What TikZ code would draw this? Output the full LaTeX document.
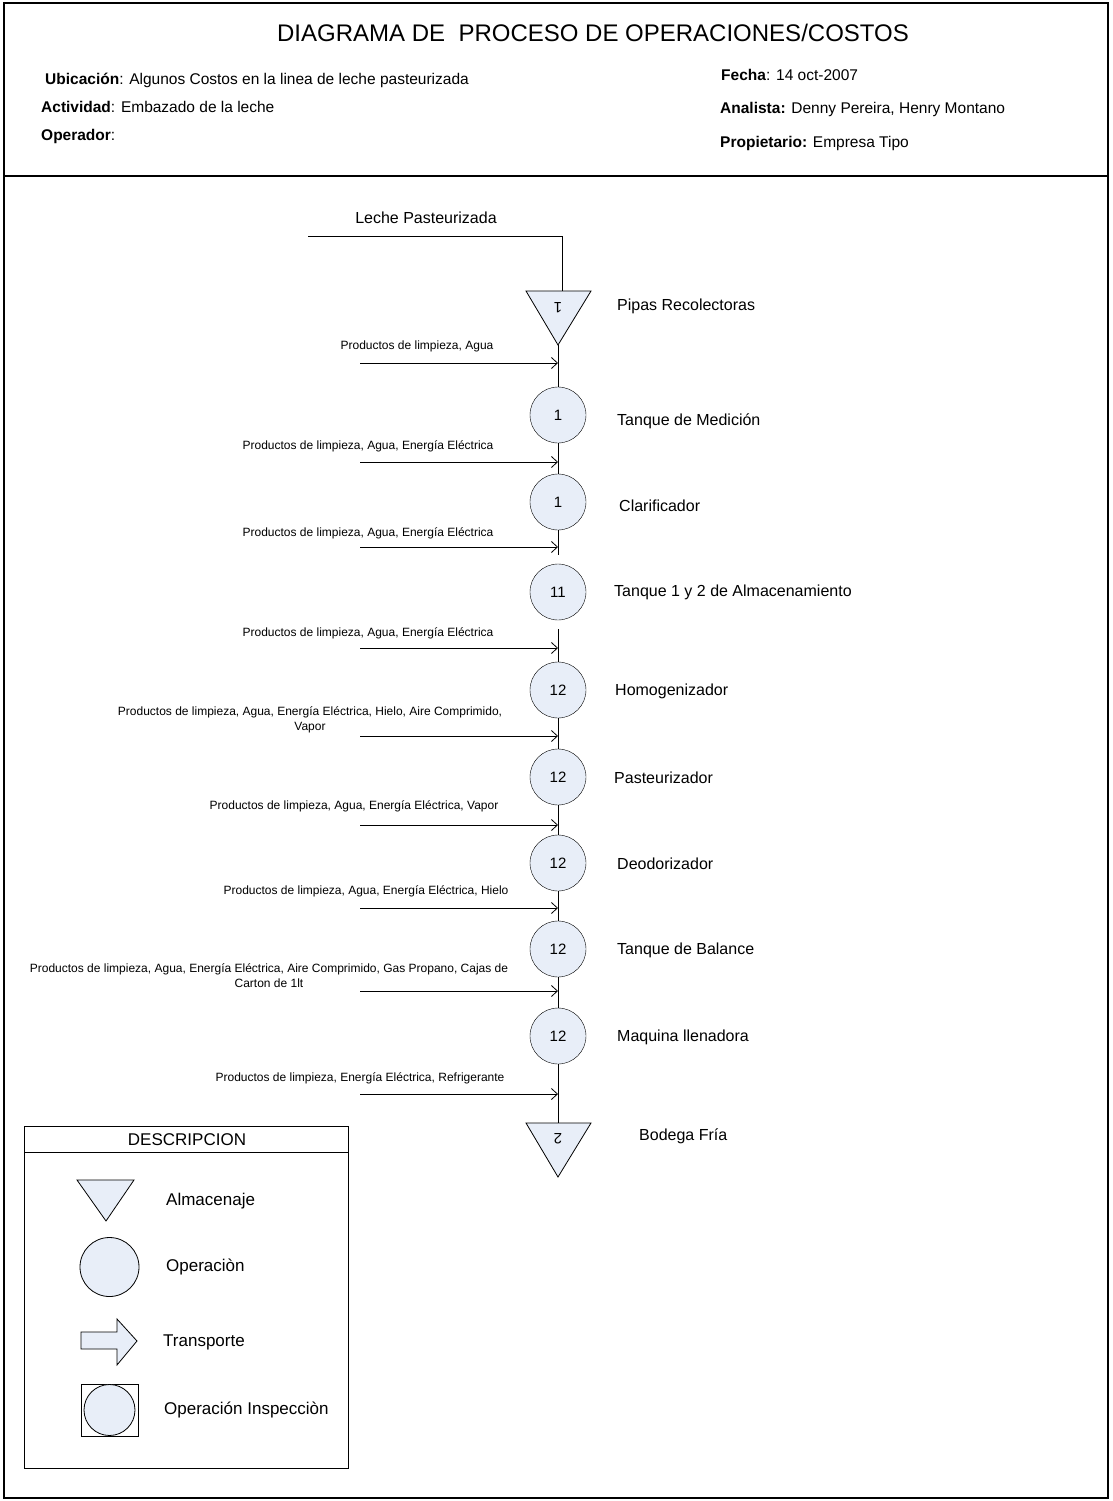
\documentclass[tikz,border=0pt]{standalone}
\usepackage{fontspec}
\setmainfont{Liberation Sans}
\usetikzlibrary{arrows.meta}
\definecolor{opfill}{RGB}{232,238,248}

\begin{document}
\begin{tikzpicture}[x=1pt,y=-1pt,
  every node/.style={inner sep=0pt},
  oper/.style={circle,draw,fill=opfill,minimum size=56pt,font=\fontsize{15}{18}\selectfont},
  etiq/.style={anchor=west,font=\fontsize{16}{19}\selectfont},
  insumo/.style={align=center,font=\fontsize{12}{15}\selectfont},
  encab/.style={anchor=west,font=\fontsize{15.5}{18}\selectfont},
  flecha/.style={line width=0.8pt,-{Straight Barb[length=6pt,width=11pt]}}]
  \useasboundingbox (0,0) rectangle (1112,1501);

  % marco y encabezado
  \draw[line width=2pt] (4,3) rectangle (1108,1498);
  \draw[line width=2pt] (4,176) -- (1108,176);
  \node[font=\fontsize{24}{28}\selectfont] (titulo) at (593,33) {DIAGRAMA DE\ \ PROCESO DE OPERACIONES/COSTOS};
  \node[encab] (ubic) at (45,80) {\textbf{Ubicación}: Algunos Costos en la linea de leche pasteurizada};
  \node[encab] (activ) at (41,107) {\textbf{Actividad}: Embazado de la leche};
  \node[encab] (opera) at (41,136) {\textbf{Operador}:};
  \node[encab] (fecha) at (721,75) {\textbf{Fecha}: 14 oct-2007};
  \node[encab] (analis) at (720,109) {\textbf{Analista:} Denny Pereira, Henry Montano};
  \node[encab] (propiet) at (720,143) {\textbf{Propietario:} Empresa Tipo};

  % entrada de leche y primer almacenaje
  \coordinate (leche) at (308,236);
  \coordinate (pipasTop) at (562,291);
  \coordinate (pipasTip) at (558,345);
  \node[font=\fontsize{16}{19}\selectfont] (lecheLbl) at (426,218) {Leche Pasteurizada};
  \draw[line width=0.8pt] (leche) -| (pipasTop);
  \draw[line width=0.8pt,fill=opfill] (526,291) -- (591,291) -- (pipasTip) -- cycle;
  \node[rotate=180,font=\fontsize{15}{18}\selectfont] (pipasNum) at (558,308) {1};
  \node[etiq] (pipasLbl) at (617,306) {Pipas Recolectoras};

  % operaciones
  \node[oper] (medicion) at (558,415) {1};
  \node[oper] (clarif) at (558,502) {1};
  \node[oper] (tanques) at (558,592) {11};
  \node[oper] (homog) at (558,690) {12};
  \node[oper] (pasteur) at (558,777) {12};
  \node[oper] (deodor) at (558,863) {12};
  \node[oper] (balance) at (558,949) {12};
  \node[oper] (llenad) at (558,1036) {12};

  \node[etiq] at (617,421) {Tanque de Medición};
  \node[etiq] at (619,506) {Clarificador};
  \node[etiq] at (614,592) {Tanque 1 y 2 de Almacenamiento};
  \node[etiq] at (615,691) {Homogenizador};
  \node[etiq] at (614,778) {Pasteurizador};
  \node[etiq] at (617,864) {Deodorizador};
  \node[etiq] at (617,950) {Tanque de Balance};
  \node[etiq] at (617,1037) {Maquina llenadora};

  % almacenaje final
  \coordinate (bodegaTop) at (558,1123);
  \draw[line width=0.8pt,fill=opfill] (526,1123) -- (591,1123) -- (558,1177) -- cycle;
  \node[rotate=180,font=\fontsize{15}{18}\selectfont] (bodegaNum) at (558,1139) {2};
  \node[etiq] (bodegaLbl) at (639,1136) {Bodega Fría};

  % linea principal
  \draw[line width=0.8pt] (pipasTip) -- (medicion) -- (clarif);
  \draw[line width=0.8pt,shorten >=9pt] (clarif) -- (tanques);
  \draw[line width=0.8pt,shorten <=9pt] (tanques) -- (homog);
  \draw[line width=0.8pt] (homog) -- (pasteur) -- (deodor) -- (balance) -- (llenad) -- (bodegaTop);

  % insumos
  \coordinate (in1) at (360,363);
  \coordinate (in2) at (360,462);
  \coordinate (in3) at (360,547);
  \coordinate (in4) at (360,648);
  \coordinate (in5) at (360,736);
  \coordinate (in6) at (360,825);
  \coordinate (in7) at (360,908);
  \coordinate (in8) at (360,991);
  \coordinate (in9) at (360,1094);
  \draw[flecha] (in1) -- (in1 -| medicion);
  \draw[flecha] (in2) -- (in2 -| medicion);
  \draw[flecha] (in3) -- (in3 -| medicion);
  \draw[flecha] (in4) -- (in4 -| medicion);
  \draw[flecha] (in5) -- (in5 -| medicion);
  \draw[flecha] (in6) -- (in6 -| medicion);
  \draw[flecha] (in7) -- (in7 -| medicion);
  \draw[flecha] (in8) -- (in8 -| medicion);
  \draw[flecha] (in9) -- (in9 -| medicion);

  \node[insumo] at (417,346) {Productos de limpieza, Agua};
  \node[insumo] at (368,446) {Productos de limpieza, Agua, Energía Eléctrica};
  \node[insumo] at (368,533) {Productos de limpieza, Agua, Energía Eléctrica};
  \node[insumo] at (368,633) {Productos de limpieza, Agua, Energía Eléctrica};
  \node[insumo] at (310,720) {Productos de limpieza, Agua, Energía Eléctrica, Hielo, Aire Comprimido,\\Vapor};
  \node[insumo] at (354,806) {Productos de limpieza, Agua, Energía Eléctrica, Vapor};
  \node[insumo] at (366,891) {Productos de limpieza, Agua, Energía Eléctrica, Hielo};
  \node[insumo] at (269,976) {Productos de limpieza, Agua, Energía Eléctrica, Aire Comprimido, Gas Propano, Cajas de\\Carton de 1lt};
  \node[insumo] at (360,1078) {Productos de limpieza, Energía Eléctrica, Refrigerante};

  % cuadro de descripcion
  \draw[line width=0.8pt] (24,1126) rectangle (348,1468);
  \draw[line width=0.8pt] (24,1152) -- (348,1152);
  \node[font=\fontsize{17}{20}\selectfont] (descr) at (187,1140) {DESCRIPCION};
  \draw[line width=0.8pt,fill=opfill] (77,1180) -- (134,1180) -- (106,1221) -- cycle;
  \draw[line width=0.8pt,fill=opfill] (109.5,1267) circle (29.5);
  \draw[line width=0.8pt,fill=opfill] (81,1332) -- (117,1332) -- (117,1319) -- (137,1341)
    -- (117,1365) -- (117,1349) -- (81,1349) -- cycle;
  \draw[line width=0.8pt] (81,1384) rectangle (138,1436);
  \draw[line width=0.8pt,fill=opfill] (109.5,1410) circle (25.5);
  \node[etiq,font=\fontsize{17}{20}\selectfont] at (166,1201) {Almacenaje};
  \node[etiq,font=\fontsize{17}{20}\selectfont] at (166,1267) {Operaciòn};
  \node[etiq,font=\fontsize{17}{20}\selectfont] at (163,1342) {Transporte};
  \node[etiq,font=\fontsize{17}{20}\selectfont] at (164,1410) {Operación Inspecciòn};
\end{tikzpicture}
\end{document}
